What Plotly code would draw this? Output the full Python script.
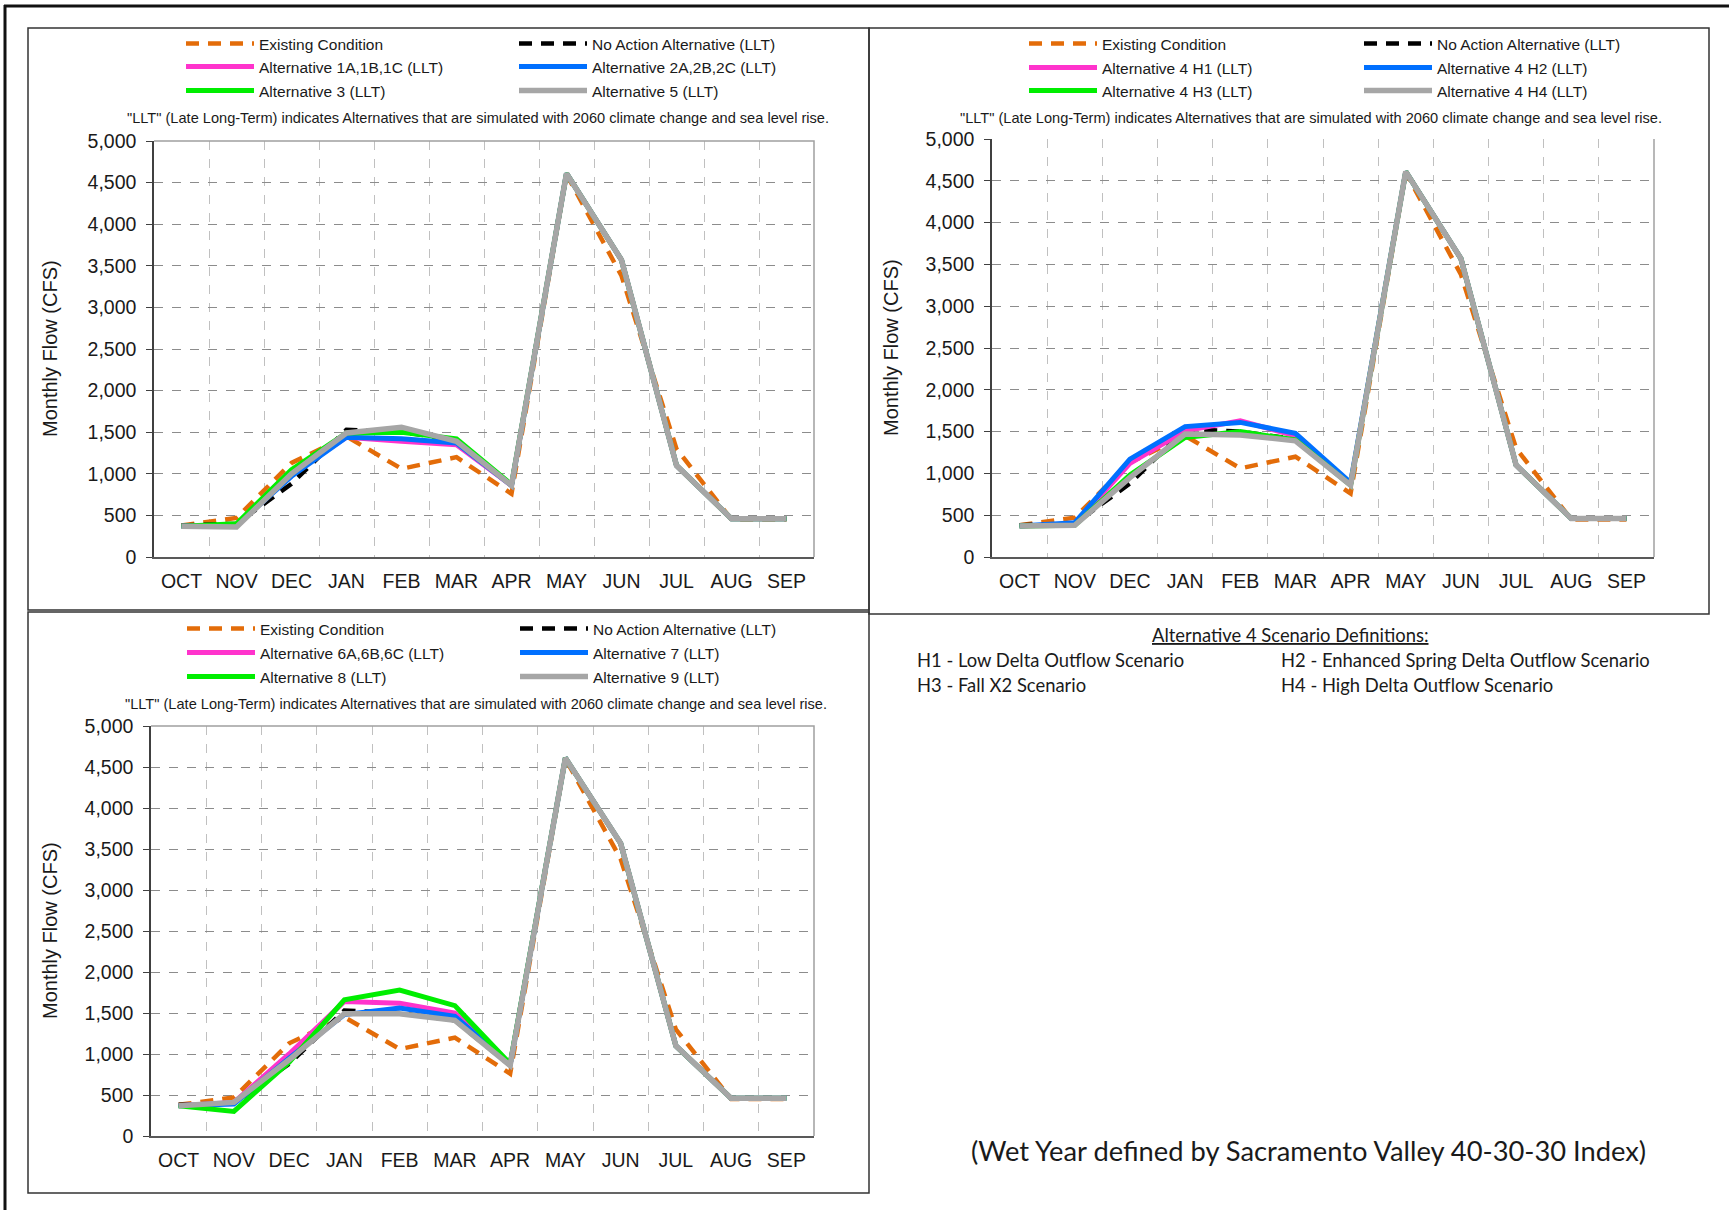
import plotly.graph_objects as go

W, H = 1729, 1210

months = ["OCT", "NOV", "DEC", "JAN", "FEB", "MAR", "APR", "MAY", "JUN", "JUL", "AUG", "SEP"]

# Monthly flow (CFS) for each scenario
existing = [380, 470, 1130, 1450, 1060, 1200, 760, 4600, 3380, 1300, 450, 450]
no_action = [380, 400, 880, 1530, 1500, 1410, 860, 4610, 3570, 1100, 460, 460]

alt_1abc = [370, 380, 1000, 1440, 1390, 1350, 860, 4610, 3570, 1100, 460, 460]
alt_2abc = [370, 380, 970, 1440, 1420, 1370, 860, 4610, 3570, 1100, 460, 460]
alt_3 = [370, 400, 1050, 1490, 1500, 1420, 870, 4610, 3570, 1100, 460, 460]
alt_5 = [370, 360, 1000, 1490, 1560, 1390, 860, 4610, 3570, 1100, 460, 460]

alt4_h1 = [370, 390, 1120, 1510, 1630, 1450, 870, 4610, 3570, 1100, 460, 460]
alt4_h2 = [370, 410, 1170, 1560, 1610, 1480, 890, 4610, 3570, 1100, 460, 460]
alt4_h3 = [370, 380, 980, 1430, 1500, 1400, 860, 4610, 3570, 1100, 460, 460]
alt4_h4 = [370, 380, 950, 1470, 1460, 1390, 860, 4610, 3570, 1100, 460, 460]

alt_6abc = [370, 410, 1000, 1640, 1620, 1500, 870, 4610, 3570, 1100, 460, 460]
alt_7 = [370, 390, 950, 1480, 1560, 1460, 870, 4610, 3570, 1100, 460, 460]
alt_8 = [370, 300, 900, 1660, 1780, 1590, 880, 4610, 3570, 1100, 460, 460]
alt_9 = [370, 410, 930, 1490, 1490, 1410, 860, 4610, 3570, 1100, 460, 460]

names_1 = ["Existing Condition", "No Action Alternative (LLT)",
           "Alternative 1A,1B,1C (LLT)", "Alternative 2A,2B,2C (LLT)",
           "Alternative 3 (LLT)", "Alternative 5 (LLT)"]
names_2 = ["Existing Condition", "No Action Alternative (LLT)",
           "Alternative 4 H1 (LLT)", "Alternative 4 H2 (LLT)",
           "Alternative 4 H3 (LLT)", "Alternative 4 H4 (LLT)"]
names_3 = ["Existing Condition", "No Action Alternative (LLT)",
           "Alternative 6A,6B,6C (LLT)", "Alternative 7 (LLT)",
           "Alternative 8 (LLT)", "Alternative 9 (LLT)"]

note = '"LLT" (Late Long-Term) indicates Alternatives that are simulated with 2060 climate change and sea level rise.'
y_title = "Monthly Flow (CFS)"

LINE_STYLES = [
    dict(color="#E36C09", width=4.5, dash="13px,9px"),
    dict(color="#000000", width=4.5, dash="13px,9px"),
    dict(color="#FF33CC", width=5),
    dict(color="#0070FF", width=5),
    dict(color="#00EE00", width=5),
    dict(color="#A6A6A6", width=5.5),
]

ARIAL = "Liberation Sans, Arial, sans-serif"
CALIBRI = "Lato, Carlito, Calibri, sans-serif"
TEXT = "#1a1a1a"


def fx(px):
    return px / W


def fy(py):
    return 1 - py / H


panels = [
    dict(series=[existing, no_action, alt_1abc, alt_2abc, alt_3, alt_5], names=names_1,
         plot=(154, 814, 141, 557), box=(28, 28, 869, 610), rows=(44, 67, 91),
         sym_left=186, sym_right=518, note_xy=(478, 118), title_x=50, top_solid=True),
    dict(series=[existing, no_action, alt4_h1, alt4_h2, alt4_h3, alt4_h4], names=names_2,
         plot=(992, 1654, 139, 557), box=(869, 28, 1709, 614), rows=(44, 68, 91),
         sym_left=1029, sym_right=1363, note_xy=(1311, 118), title_x=891, top_solid=False),
    dict(series=[existing, no_action, alt_6abc, alt_7, alt_8, alt_9], names=names_3,
         plot=(151, 814, 726, 1136), box=(28, 612, 869, 1193), rows=(629, 653, 677),
         sym_left=187, sym_right=519, note_xy=(476, 704), title_x=50, top_solid=True),
]

fig = go.Figure()
layout = dict(
    width=W, height=H,
    margin=dict(l=0, r=0, t=0, b=0, pad=0, autoexpand=False),
    paper_bgcolor="white", plot_bgcolor="white",
    showlegend=True,
    shapes=[], annotations=[],
)

ITEM_W = 68
legend_n = 0
for p_i, p in enumerate(panels):
    ax = "" if p_i == 0 else str(p_i + 1)
    x0, x1, y0, y1 = p["plot"]
    layout["xaxis" + ax] = dict(
        domain=[fx(x0), fx(x1)], anchor="y" + ax, automargin=False,
        type="category", categoryorder="array", categoryarray=months,
        range=[-0.5, len(months) - 0.5],
        tickson="boundaries", showgrid=True, gridcolor="#C0C0C0", griddash="dash", gridwidth=1,
        showline=True, linecolor="#595959", linewidth=1.5,
        ticks="", ticklabelstandoff=6,
        tickfont=dict(family=ARIAL, size=19.5, color=TEXT),
        fixedrange=True,
    )
    layout["yaxis" + ax] = dict(
        domain=[fy(y1), fy(y0)], anchor="x" + ax, automargin=False,
        range=[0, 5000], tick0=0, dtick=500, tickformat=",d",
        showgrid=True, gridcolor="#8C8C8C", griddash="dash", gridwidth=1.2,
        zeroline=False, showline=True, linecolor="#404040", linewidth=1.5,
        ticks="outside", ticklen=6, tickcolor="#404040", tickwidth=1.2,
        ticklabelstandoff=6,
        tickfont=dict(family=ARIAL, size=19.5, color=TEXT),
        fixedrange=True,
    )

    # legend rows: two entries per row
    row_legends = []
    for r, ry in enumerate(p["rows"]):
        legend_n += 1
        key = "legend" if legend_n == 1 else "legend%d" % legend_n
        row_legends.append(key)
        layout[key] = dict(
            orientation="h", x=fx(p["sym_left"] - 5), xanchor="left",
            y=fy(ry), yanchor="middle",
            itemwidth=ITEM_W, entrywidth=(p["sym_right"] - p["sym_left"]) - ITEM_W - 14,
            entrywidthmode="pixels", bgcolor="rgba(0,0,0,0)", borderwidth=0,
            font=dict(family=ARIAL, size=15.5, color=TEXT),
            itemclick=False, itemdoubleclick=False, traceorder="normal",
        )

    for s_i, (vals, name) in enumerate(zip(p["series"], p["names"])):
        fig.add_trace(go.Scatter(
            x=months, y=vals, name=name, mode="lines",
            line=LINE_STYLES[s_i], xaxis="x" + ax, yaxis="y" + ax,
            legend=row_legends[s_i // 2], hoverinfo="skip",
        ))

    # plot-area frame (top/right)
    if p["top_solid"]:
        layout["shapes"].append(dict(
            type="path", xref="x%s domain" % ax, yref="y%s domain" % ax,
            path="M 0,1 L 1,1 L 1,0", line=dict(color="#A0A0A0", width=1.5), layer="above"))
    else:
        layout["shapes"].append(dict(
            type="line", xref="x%s domain" % ax, yref="y%s domain" % ax,
            x0=1, x1=1, y0=0, y1=1, line=dict(color="#A0A0A0", width=1.5), layer="above"))

    # panel box
    bx0, by0, bx1, by1 = p["box"]
    layout["shapes"].append(dict(
        type="rect", xref="paper", yref="paper",
        x0=fx(bx0), x1=fx(bx1), y0=fy(by1), y1=fy(by0),
        line=dict(color="#333333", width=1.5), fillcolor="rgba(0,0,0,0)", layer="above"))

    # note and axis title
    nx, ny = p["note_xy"]
    layout["annotations"].append(dict(
        text=note, x=fx(nx), y=fy(ny), xref="paper", yref="paper",
        xanchor="center", yanchor="middle", showarrow=False,
        font=dict(family=ARIAL, size=14.6, color=TEXT)))
    layout["annotations"].append(dict(
        text=y_title, x=fx(p["title_x"]), y=fy((y0 + y1) / 2), xref="paper", yref="paper",
        xanchor="center", yanchor="middle", showarrow=False, textangle=-90,
        font=dict(family=ARIAL, size=20, color=TEXT)))

# outer frame (top and left edges)
layout["shapes"].append(dict(type="line", xref="paper", yref="paper",
                             x0=fx(4), x1=1, y0=fy(6), y1=fy(6),
                             line=dict(color="#111111", width=3), layer="above"))
layout["shapes"].append(dict(type="line", xref="paper", yref="paper",
                             x0=fx(5), x1=fx(5), y0=0, y1=fy(5),
                             line=dict(color="#111111", width=3), layer="above"))

# scenario definitions
defs_heading = "<u>Alternative 4 Scenario Definitions:</u>"
defs_left = ["H1 - Low Delta Outflow Scenario", "H3 - Fall X2 Scenario"]
defs_right = ["H2 - Enhanced Spring Delta Outflow Scenario", "H4 - High Delta Outflow Scenario"]
footnote = "(Wet Year defined by Sacramento Valley 40-30-30 Index)"

layout["annotations"].append(dict(
    text=defs_heading, x=fx(1290), y=fy(635), xref="paper", yref="paper",
    xanchor="center", yanchor="middle", showarrow=False,
    font=dict(family=CALIBRI, size=18.4, color=TEXT)))
for i, (lt, rt) in enumerate(zip(defs_left, defs_right)):
    yy = 660 + i * 25
    layout["annotations"].append(dict(
        text=lt, x=fx(915), y=fy(yy), xref="paper", yref="paper",
        xanchor="left", yanchor="middle", showarrow=False,
        font=dict(family=CALIBRI, size=18.4, color=TEXT)))
    layout["annotations"].append(dict(
        text=rt, x=fx(1279), y=fy(yy), xref="paper", yref="paper",
        xanchor="left", yanchor="middle", showarrow=False,
        font=dict(family=CALIBRI, size=18.4, color=TEXT)))
layout["annotations"].append(dict(
    text=footnote, x=fx(1308), y=fy(1150), xref="paper", yref="paper",
    xanchor="center", yanchor="middle", showarrow=False,
    font=dict(family=CALIBRI, size=27.3, color=TEXT)))

fig.update_layout(**layout)
fig.write_html("out.html", config={"displayModeBar": False})
